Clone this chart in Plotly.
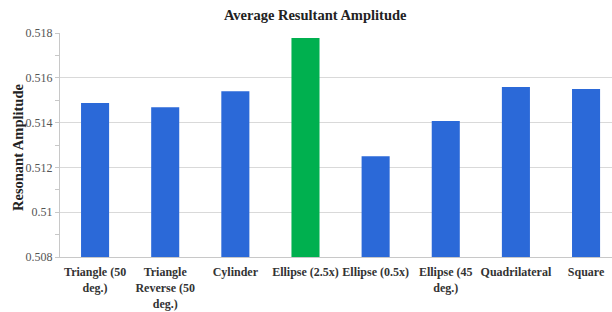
import plotly.graph_objects as go

categories = ["Triangle (50<br>deg.)", "Triangle<br>Reverse (50<br>deg.)", "Cylinder", "Ellipse (2.5x)",
              "Ellipse (0.5x)", "Ellipse (45<br>deg.)", "Quadrilateral", "Square"]
values = [0.51488, 0.51468, 0.5154, 0.51778, 0.5125, 0.51407, 0.51559, 0.5155]
colors = ["#2b69d8", "#2b69d8", "#2b69d8", "#00b04f", "#2b69d8", "#2b69d8", "#2b69d8", "#2b69d8"]
tick_vals = [0.508, 0.51, 0.512, 0.514, 0.516, 0.518]
tick_text = ["0.508", "0.51", "0.512", "0.514", "0.516", "0.518"]
y_title = "Resonant Amplitude"

fig = go.Figure(go.Bar(
    x=list(range(len(categories))), y=values, marker_color=colors,
    marker_line_width=0, width=0.4,
))

fig.update_layout(
    width=612, height=312,
    margin=dict(l=60, r=0, t=33, b=55),
    paper_bgcolor="white", plot_bgcolor="white",
    font=dict(family="Liberation Serif, Times New Roman, serif", color="#444"),
    title=dict(text="<b>Average Resultant Amplitude</b>", x=0.515, xanchor="center",
               y=0.952, yanchor="middle", font=dict(size=14.5, color="#222")),
    showlegend=False,
)
fig.add_annotation(
    text="<b>" + y_title + "</b>", textangle=-90, showarrow=False,
    xref="paper", yref="paper", x=0, y=0.5, xanchor="center", yanchor="middle",
    xshift=-42, yshift=-3, font=dict(size=14.5, color="#222"),
)
fig.update_xaxes(
    tickmode="array", tickvals=list(range(len(categories))),
    ticktext=["<b>" + c + "</b>" for c in categories],
    tickfont=dict(size=12, color="#333"),
    range=[-0.5, 7.37], showgrid=False, showline=True, linecolor="#c8c8c8", linewidth=1,
    ticks="", tickangle=0, automargin=False, ticklabelstandoff=4,
)
fig.update_yaxes(
    range=[0.508, 0.518], tickmode="array", tickvals=tick_vals, ticktext=tick_text,
    tickfont=dict(size=12, color="#555"),
    showgrid=True, gridcolor="#d9d9d9", gridwidth=1,
    showline=True, linecolor="#c8c8c8", linewidth=1,
    ticks="outside", ticklen=4, tickcolor="#c8c8c8",
    minor=dict(dtick=0.001, tick0=0.508, ticks="outside", ticklen=4, tickcolor="#c8c8c8", showgrid=False),
    zeroline=False, automargin=False,
)

fig.write_html("out.html", config={"displayModeBar": False},
               post_script="document.body.style.margin='0';")
